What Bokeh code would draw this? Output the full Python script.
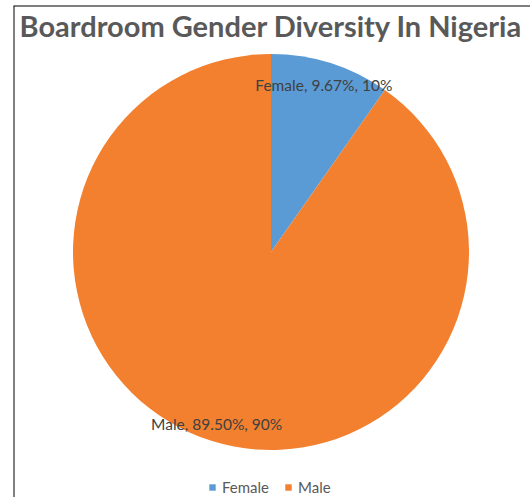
import math
from bokeh.plotting import figure
from bokeh.models import Range1d, Label, Legend, LegendItem, Span, ColumnDataSource
from bokeh.embed import file_html
from bokeh.resources import INLINE

# ---- data ----
categories = ["Female", "Male"]
percent_values = [9.67, 89.50]
rounded_labels = ["10%", "90%"]
colors = ["#5B9BD5", "#F2802F"]
title_text = "Boardroom Gender Diversity In Nigeria"

W, H = 530, 497
LEFT, TOP = 13, 5
FW, FH = W - LEFT, H - TOP
p = figure(width=W, height=H, output_backend="svg", toolbar_location=None,
           min_border_left=LEFT, min_border_right=0, min_border_top=TOP, min_border_bottom=0,
           x_range=Range1d(0, FW), y_range=Range1d(0, FH))
p.axis.visible = False
p.grid.visible = False
p.outline_line_color = None
p.background_fill_color = "white"
p.border_fill_color = "white"

cx, cy, r = 270.5 - LEFT, FH - (251.5 - TOP), 198
total = sum(percent_values)
cum = 0.0
starts, ends, mids = [], [], []
for v in percent_values:
    a0 = math.pi / 2 - 2 * math.pi * cum / total
    cum += v
    a1 = math.pi / 2 - 2 * math.pi * cum / total
    starts.append(a0)
    ends.append(a1)
    mids.append((a0 + a1) / 2)

src = ColumnDataSource(dict(cat=categories, start=starts, end=ends, color=colors,
                            x=[cx] * len(categories), y=[cy] * len(categories)))
wr = p.wedge(x="x", y="y", radius=r, start_angle="start", end_angle="end",
             direction="clock", fill_color="color", line_color=None, source=src)

# data labels
label_r = [0.885, 0.91]
for i, cat in enumerate(categories):
    lx = cx + label_r[i] * r * math.cos(mids[i])
    ly = cy + label_r[i] * r * math.sin(mids[i])
    p.add_layout(Label(x=lx, y=ly, text=f"{cat}, {percent_values[i]:.2f}%, {rounded_labels[i]}",
                       text_align="center", text_baseline="middle",
                       text_font="Lato", text_font_size="15.5px", text_color="#404040"))

# title
p.add_layout(Label(x=270.5 - LEFT, y=FH - (25 - TOP), text=title_text, text_align="center",
                   text_baseline="middle", text_font="Lato", text_font_style="bold",
                   text_font_size="29px", text_color="#595959"))

# frame lines (left & top)
p.add_layout(Span(location=0, dimension="height", line_color="black", line_width=2))
p.add_layout(Span(location=FH, dimension="width", line_color="black", line_width=2))

legend = Legend(items=[LegendItem(label=c, renderers=[wr], index=i) for i, c in enumerate(categories)],
                orientation="horizontal", location=(208 - LEFT, 1),
                glyph_width=8, glyph_height=8, label_standoff=6, spacing=15,
                padding=0, margin=0, border_line_color=None, background_fill_alpha=0,
                label_text_font="Lato", label_text_font_size="15px", label_text_color="#595959")
p.add_layout(legend)

open("out.html", "w").write(file_html(p, INLINE))
